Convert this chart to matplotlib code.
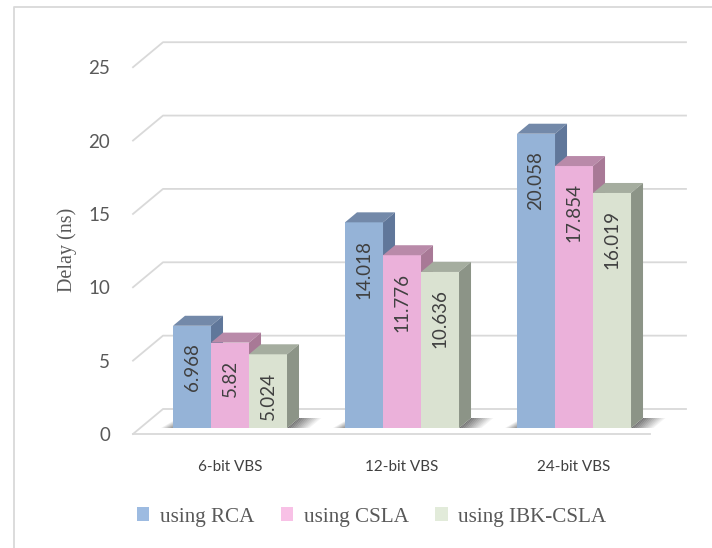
import matplotlib.pyplot as plt
from matplotlib.patches import Polygon, Patch
from matplotlib.lines import Line2D

# ─── data ────────────────────────────────────────────────────────────────────
categories   = ['6-bit VBS', '12-bit VBS', '24-bit VBS']
series_names = ['using RCA', 'using CSLA', 'using IBK-CSLA']
rca      = [6.968, 14.018, 20.058]
csla     = [5.82, 11.776, 17.854]
ibk_csla = [5.024, 10.636, 16.019]
y_ticks  = [0, 5, 10, 15, 20, 25]

series = [rca, csla, ibk_csla]

# front, top, side, legend swatch
palette = [
    ('#95b3d7', '#7389a9', '#60779a', '#9dbbe1'),
    ('#ebb1da', '#b98aa9', '#a87996', '#f8c1e6'),
    ('#dae2d1', '#a5ad9f', '#8c9487', '#e2ebda'),
]

GRID = '#d9d9d9'
TXT = '#595959'

# ─── figure / axes (pixel-aligned) ───────────────────────────────────────────
W, H = 712, 548
fig = plt.figure(figsize=(W / 100, H / 100), dpi=100)
ax = fig.add_axes([133 / W, (H - 434) / H, (686 - 133) / W, (434 - 43) / H])
ax.set_xlim(-0.564, 2.651)
ax.set_ylim(0, 26.65)
for s in ax.spines.values():
    s.set_visible(False)

# pseudo-3d depths, in data units
sx = (686 - 133) / 3.215          # px per category
sy = (434 - 43) / 26.65           # px per unit of delay
GX, GY = 30 / sx, 25 / sy         # wall depth
BX, BY = 12 / sx, 10 / sy         # bar depth
BASE = 6 / sy                     # bars stand a bit back on the floor
BW = 38 / sx                      # bar width
x_left, x_right, floor_right = -0.564, 2.651, 2.442

# ─── walls: gridlines with the slanted left edge ─────────────────────────────
for v in y_ticks:
    ax.add_line(Line2D([x_left, x_left + GX, x_right], [v, v + GY, v + GY],
                       color=GRID, lw=1.3, zorder=1, clip_on=False))
ax.add_line(Line2D([x_left, floor_right], [0, 0], color=GRID, lw=1.3,
                   zorder=1, clip_on=False))


def shade_strips(x_start, length, n, a0, fade_right, dy):
    """gradient shadow on the floor, built from thin slanted strips"""
    d = length / n
    for k in range(n):
        xa = x_start + k * d
        t = k / n if fade_right else 1 - (k + 1) / n
        ax.add_patch(Polygon([(xa, BASE), (xa + d, BASE),
                              (xa + d + BX, BASE + dy), (xa + BX, BASE + dy)],
                             fc='black', ec='none', alpha=a0 * (1 - t),
                             zorder=2))


# ─── bars ────────────────────────────────────────────────────────────────────
z = 3
for gi, cat in enumerate(categories):
    g_left = gi - 1.5 * BW
    g_right = gi + 1.5 * BW
    shade_strips(g_right, 0.13, 12, 0.55, True, BY)
    shade_strips(g_left - 0.07, 0.07, 8, 0.45, False, BY * 0.7)
    for si, vals in enumerate(series):
        front, top, side, _ = palette[si]
        x0 = g_left + si * BW
        x1 = x0 + BW
        h = vals[gi]
        y1 = BASE + h
        ax.bar(x0, h, width=BW, bottom=BASE, align='edge', color=front,
               lw=0, zorder=z)
        ax.add_patch(Polygon([(x0, y1), (x1, y1), (x1 + BX, y1 + BY),
                              (x0 + BX, y1 + BY)], fc=top, ec='none', zorder=z))
        ax.add_patch(Polygon([(x1, BASE), (x1 + BX, BASE + BY),
                              (x1 + BX, y1 + BY), (x1, y1)],
                             fc=side, ec='none', zorder=z))
        ax.annotate(f'{h}', (x0 + BW / 2, y1), xytext=(0, -12.5),
                    textcoords='offset points', rotation=90, ha='center',
                    va='top', family='Lato', fontsize=13.5, color='#404040',
                    zorder=z + 0.5)
        z += 1

# ─── axes text ───────────────────────────────────────────────────────────────
ax.set_yticks(y_ticks)
ax.set_xticks(range(len(categories)), categories)
ax.tick_params(axis='y', length=0, pad=16.5, labelsize=13.5, labelcolor=TXT)
ax.tick_params(axis='x', length=0, pad=19, labelsize=11, labelcolor='#404040')
for lbl in ax.get_yticklabels() + ax.get_xticklabels():
    lbl.set_family('Lato')

fig.text(67 / W, 1 - 250 / H, 'Delay (ns)', rotation=90, ha='center',
         va='center', family='Liberation Serif', fontsize=14.5, color=TXT)

# ─── legend ──────────────────────────────────────────────────────────────────
handles = [Patch(fc=p[3], ec='none') for p in palette]
fig.legend(handles, series_names, loc='center', ncol=3,
           bbox_to_anchor=(371.5 / W, 1 - 517 / H), frameon=False,
           prop={'family': 'Liberation Serif', 'size': 15.2}, labelcolor=TXT,
           handlelength=0.6, handleheight=0.6, handletextpad=0.5,
           columnspacing=1.25)

# ─── chart frame (left and top edges) ────────────────────────────────────────
fig.add_artist(Line2D([13.5 / W, 13.5 / W, 1], [0, 1 - 7 / H, 1 - 7 / H],
                      color=GRID, lw=1.3, transform=fig.transFigure))

fig.savefig('out.png', dpi=100)
